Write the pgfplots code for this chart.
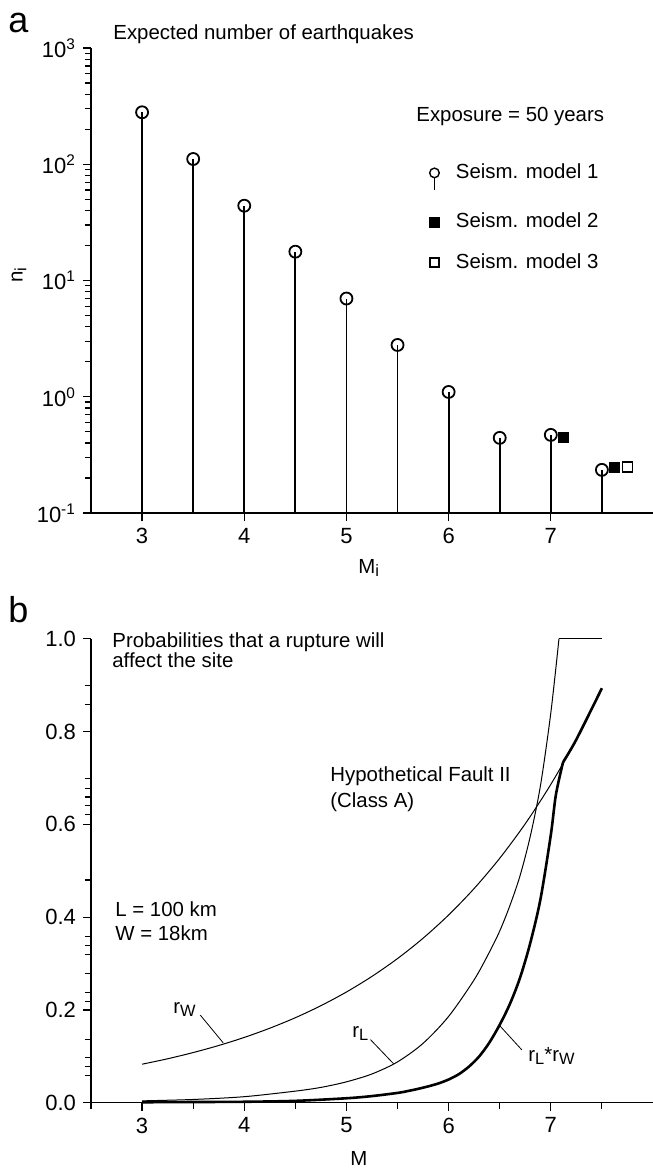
\documentclass[border=0pt]{standalone}
\usepackage{fontspec}
\setmainfont{Liberation Sans}
\usepackage{pgfplots}
\pgfplotsset{compat=1.18}
\newcommand{\sub}[1]{\raisebox{-0.35ex}{\fontsize{8.2}{8.2}\selectfont #1}}
\pgfplotsset{
  panel/.style={
    scale only axis, width=281pt,
    xmin=2.5, xmax=8,
    axis lines*=left,
    axis line style={line width=0.65pt},
    every tick/.style={black, line width=0.6pt},
    tick align=outside,
    major tick length=4pt, minor tick length=3pt,
    xtick={3,4,5,6,7},
    /pgf/number format/assume math mode=true,
    tick label style={font=\fontsize{11}{13}\selectfont},
    clip=false,
  }
}
\begin{document}
\begin{tikzpicture}[x=0.5pt,y=-0.5pt]
\useasboundingbox (0,0) rectangle (653,1169);

% ---------- panel a ----------
\begin{axis}[panel,
  at={(45.5pt,-256.5pt)}, anchor=south west, height=232.5pt,
  ymode=log, ymin=0.1, ymax=1000, log origin y=infty,
  ytick={0.1,1,10,100,1000},
  yticklabels={10\textsuperscript{-1},10\textsuperscript{0},10\textsuperscript{1},10\textsuperscript{2},10\textsuperscript{3}},
  minor ytick={0.2,0.3,0.4,0.5,0.6,0.7,0.8,0.9,2,3,4,5,6,7,8,9,20,30,40,50,60,70,80,90,200,300,400,500,600,700,800,900},
  legend style={at={(0.59,0.76)}, anchor=north west, draw=none, fill=none,
    font=\fontsize{10.2}{12}\selectfont, row sep=11.3pt,
    nodes={inner sep=0pt},
    /tikz/every odd column/.append style={column sep=8pt}},
  legend cell align=left,
]
\addplot[ycomb, black, line width=0.9pt, mark=o, mark size=3pt,
  mark options={fill=white, line width=0.9pt},
  legend image code/.code={
    \draw[line width=0.7pt] (0pt,-2.4pt) -- (0pt,-8.5pt);
    \draw[line width=0.7pt] (0pt,0pt) circle (2.4pt);}]
  coordinates {(3,280) (3.5,111) (4,44) (4.5,17.7) (5,7.0) (5.5,2.79)
               (6,1.10) (6.5,0.443) (7,0.47) (7.5,0.235)};
\addlegendentry{\rule[-4.9pt]{0pt}{8pt}Seism. model 1}
\addplot[only marks, black, mark=square*, mark size=2.5pt,
  legend image code/.code={\fill (-2.5pt,-2.5pt) rectangle (2.5pt,2.5pt);}]
  coordinates {(7.12,0.443) (7.62,0.249)};
\addlegendentry{\rule[-2pt]{0pt}{8pt}Seism. model 2}
\addplot[only marks, black, mark=square, mark size=2.5pt,
  mark options={line width=0.8pt, fill=white},
  legend image code/.code={\draw[line width=0.8pt] (-2.3pt,-2.3pt) rectangle (2.3pt,2.3pt);}]
  coordinates {(7.75,0.25)};
\addlegendentry{\rule[-2pt]{0pt}{8pt}Seism. model 3}
\end{axis}

% ---------- panel b ----------
\begin{axis}[panel,
  at={(45.5pt,-551.35pt)}, anchor=south west, height=232pt,
  ymin=0, ymax=1,
  ytick={0,0.2,0.4,0.6,0.8,1.0},
  yticklabel style={/pgf/number format/.cd, fixed, fixed zerofill, precision=1},
  minor xtick={2.5,3.5,4.5,5.5,6.5,7.5},
  minor ytick={0.058,0.078,0.097,0.137,0.218,0.237,0.279,0.320,0.338,0.359,0.480,
               0.622,0.640,0.659,0.678,0.699,0.859,0.900},
]
% r_W
\addplot[black, line width=0.5pt, smooth, tension=0.5] coordinates {
  (3.00,0.0830) (3.25,0.0947) (3.50,0.1081) (3.75,0.1233) (4.00,0.1407)
  (4.25,0.1606) (4.50,0.1832) (4.75,0.2091) (5.00,0.2386) (5.25,0.2723)
  (5.50,0.3107) (5.75,0.3545) (6.00,0.4046) (6.25,0.4617) (6.50,0.5268)
  (6.75,0.6012) (7.00,0.6860) (7.25,0.7828) (7.50,0.8933)};
% r_L
\addplot[black, line width=0.5pt, smooth, tension=0.5] coordinates {
  (3.00,0.004) (3.50,0.007) (4.00,0.013) (4.50,0.025) (4.75,0.033) (5.00,0.045)
  (5.25,0.062) (5.50,0.088) (5.75,0.128) (6.00,0.186) (6.25,0.265) (6.40,0.325)
  (6.50,0.370) (6.60,0.425) (6.70,0.490) (6.80,0.575) (6.90,0.685) (7.00,0.840)
  (7.08,1.000)};
\addplot[black, line width=0.5pt] coordinates {(7.08,1.0) (7.5,1.0)};
% r_L * r_W
\addplot[black, line width=1.3pt, smooth, tension=0.5] coordinates {
  (3.00,0.001) (3.50,0.0015) (4.00,0.002) (4.50,0.004) (5.00,0.0096) (5.25,0.0143)
  (5.50,0.0211) (5.60,0.0251) (5.70,0.0298) (5.80,0.0352) (5.90,0.0415)
  (6.00,0.0500) (6.10,0.0615) (6.20,0.0780) (6.30,0.100) (6.40,0.130)
  (6.50,0.168) (6.60,0.213) (6.70,0.270) (6.80,0.345) (6.90,0.440)
  (7.00,0.577) (7.05,0.664) (7.12,0.734)};
\addplot[black, line width=1.3pt, smooth, tension=0.5] coordinates {
  (7.12,0.7340) (7.25,0.7828) (7.50,0.8933)};
% leader lines
\draw[line width=0.4pt] (axis cs:3.569,0.189) -- (axis cs:3.794,0.129);
\draw[line width=0.4pt] (axis cs:5.235,0.136) -- (axis cs:5.461,0.084);
\draw[line width=0.4pt] (axis cs:6.50,0.166) -- (axis cs:6.716,0.114);
\end{axis}

% ---------- text ----------
\begin{scope}[every node/.style={inner sep=0pt, font=\fontsize{10.2}{12}\selectfont}]
\node[font=\fontsize{18}{18}\selectfont] at (18.5,22.5) {a};
\node[font=\fontsize{18}{18}\selectfont, anchor=base] at (18.5,622) {b};
\node[anchor=base west] at (113,39.5) {Expected number of earthquakes};
\node[anchor=base west] at (416,121.5) {Exposure = 50 years};
\node[rotate=90] at (19,275) {n\sub{i}};
\node[anchor=base west] at (358,573) {M\sub{i}};
\node[anchor=base west] at (112,647.3) {Probabilities that a rupture will};
\node[anchor=base west] at (112,667.3) {affect the site};
\node[anchor=base west] at (330,781.7) {Hypothetical Fault II};
\node[anchor=base west] at (330,807.3) {(Class A)};
\node[anchor=base west] at (115,916) {L = 100 km};
\node[anchor=base west] at (115,940.7) {W = 18km};
\node[anchor=base west] at (173,1013) {r\sub{W}};
\node[anchor=base west] at (352,1037) {r\sub{L}};
\node[anchor=base west] at (528,1061) {r\sub{L}*r\sub{W}};
\node[anchor=base west] at (350,1165) {M};
\end{scope}
\end{tikzpicture}
\end{document}
